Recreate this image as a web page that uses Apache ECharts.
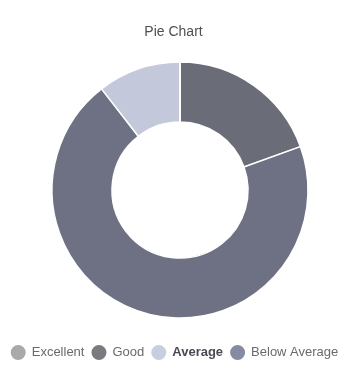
<!DOCTYPE html>
<html>
<head>
<meta charset="utf-8">
<script src="https://cdn.jsdelivr.net/npm/echarts@6/dist/echarts.min.js"></script>
<style>
  html, body { margin: 0; padding: 0; background: #ffffff; }
  #chart { width: 347px; height: 371px; }
</style>
</head>
<body>
<div id="chart"></div>
<script>
// Legend order of the rating groups
const legendNames = ['Excellent', 'Good', 'Average', 'Below Average'];
// Slice order, clockwise from 12 o'clock
const sliceNames = ['Good', 'Below Average', 'Average', 'Excellent'];
const sliceValues = [19.5, 70, 10.5, 0];
const sliceColors = ['#6a6c77', '#6e7183', '#c4c8db', '#a8a8ab'];
const legendColors = ['#a9a9ac', '#7a7b7e', '#c9cde0', '#868ba2'];

const chart = echarts.init(document.getElementById('chart'), null, { renderer: 'canvas' });

chart.setOption({
  backgroundColor: '#ffffff',
  animation: false,
  title: {
    text: 'Pie Chart',
    left: 'center',
    top: 20,
    textStyle: {
      fontFamily: 'Liberation Sans, Arial, sans-serif',
      fontSize: 14,
      fontWeight: 'normal',
      color: '#505050'
    }
  },
  legend: {
    bottom: 4,
    left: 'center',
    icon: 'circle',
    itemWidth: 17,
    itemHeight: 17,
    itemGap: 5,
    textStyle: {
      fontFamily: 'Liberation Sans, Arial, sans-serif',
      fontSize: 13,
      color: '#6a6a6a'
    },
    data: legendNames.map((n, i) => ({
      name: n,
      itemStyle: { color: legendColors[i] },
      textStyle: n === 'Average' ? { color: '#4a4a55', fontWeight: 'bold' } : {}
    }))
  },
  series: [{
    type: 'pie',
    center: [180, 190],
    radius: [68, 128],
    startAngle: 90,
    clockwise: true,
    avoidLabelOverlap: false,
    label: { show: false },
    labelLine: { show: false },
    emphasis: { disabled: true },
    itemStyle: { borderColor: '#ffffff', borderWidth: 1.5 },
    data: sliceNames.map((n, i) => ({
      name: n,
      value: sliceValues[i],
      itemStyle: { color: sliceColors[i] }
    }))
  }]
});
</script>
</body>
</html>
